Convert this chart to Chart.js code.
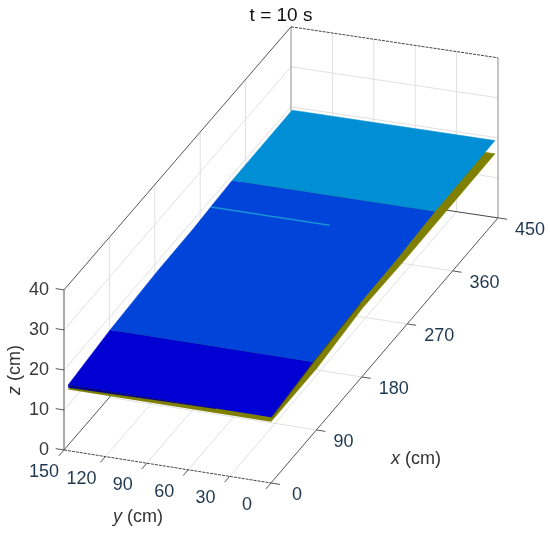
<!DOCTYPE html>
<html>
<head>
<meta charset="utf-8">
<script src="https://cdn.jsdelivr.net/npm/chart.js@4/dist/chart.umd.min.js"></script>
<style>
	body { margin: 0; background: #fff; }
	canvas { display: block; }
</style>
</head>
<body>
<canvas id="surface-chart" width="550" height="533"></canvas>
<script>
const xTicks = [0, 90, 180, 270, 360, 450];
const yTicks = [0, 30, 60, 90, 120, 150];
const zTicks = [0, 10, 20, 30, 40];

// water surface, read along the flume at each x station
const waterX = [0, 83, 176, 248, 283, 325, 444];
const waterZ = [16.4, 18.0, 19.0, 19.2, 19.6, 20.0, 20.2];
const waterWidth = 147;

// colour bands, as first and last station index
const bandStart = [0, 1, 5];
const bandEnd = [1, 5, 6];
const bandColors = ['#0000d2', '#0044da', '#008ed4'];

// bed under the water
const bedX = [0, 91, 182, 266, 444];
const bedZ = [15.3, 15.3, 17.0, 16.7, 16.9];

// thin crack line on the water
const crackX = 283;
const crackY = [147, 61];
const crackZ = [19.5, 19.5];

const ctx = document.getElementById('surface-chart').getContext('2d');
const datasets = [];

// orthographic view of the box, x/y in cm go to chart units
function project(x, y, z) {
	return {
		x: 271 + x * 227 / 450 - y * 207 / 150,
		y: 483 - x * 265 / 450 - y * 33 / 150 - z * 4 + 2 * (x / 450) * (y / 150),
	};
}

function addLine(points, color, width, dash) {
	datasets.push({
		data: points.map(p => project(p[0], p[1], p[2])),
		showLine: true,
		borderColor: color,
		borderWidth: width,
		borderDash: dash || [],
		pointRadius: 0,
		tension: 0,
		fill: false,
		clip: false,
		order: -datasets.length,
	});
}

function addShape(points, color) {
	datasets.push({
		data: points.map(p => project(p[0], p[1], p[2])),
		showLine: true,
		borderColor: color,
		backgroundColor: color,
		borderWidth: 0.5,
		pointRadius: 0,
		tension: 0,
		fill: 'shape',
		clip: false,
		order: -datasets.length,
	});
}

const gridColor = '#e0e0e0';
const innerX = xTicks.slice(1, -1);
const innerY = yTicks.slice(1, -1);
const innerZ = zTicks.slice(1, -1);

innerX.forEach(x => {
	addLine([[x, 0, 0], [x, 150, 0]], gridColor, 1);
	addLine([[x, 150, 0], [x, 150, 40]], gridColor, 1);
});
innerY.forEach(y => {
	addLine([[0, y, 0], [450, y, 0]], gridColor, 1);
	addLine([[450, y, 0], [450, y, 40]], gridColor, 1);
});
innerZ.forEach(z => {
	addLine([[0, 150, z], [450, 150, z]], gridColor, 1);
	addLine([[450, 150, z], [450, 0, z]], gridColor, 1);
});

// box edges
addLine([[450, 150, 0], [450, 150, 40]], '#8c8c8c', 1);
addLine([[450, 0, 0], [450, 0, 40]], '#8c8c8c', 1);
addLine([[0, 150, 0], [0, 150, 40]], '#555', 1);
addLine([[0, 150, 40], [450, 150, 40]], '#555', 1);
addLine([[450, 150, 40], [450, 0, 40]], '#444', 1, [3, 1]);
addLine([[0, 150, 0], [450, 150, 0]], '#555', 1);
addLine([[450, 150, 0], [450, 0, 0]], '#444', 1);
addLine([[0, 150, 0], [0, 0, 0]], '#444', 1, [3, 1]);
addLine([[0, 0, 0], [450, 0, 0]], '#555', 1);

// tick marks
xTicks.forEach(x => addLine([[x, 0, 0], [x, -6.5, 0]], '#555', 1));
yTicks.forEach(y => addLine([[0, y, 0], [-10, y, 0]], '#555', 1));
zTicks.forEach(z => addLine([[0, 150, z], [0, 156, z]], '#555', 1));

// bed
addShape(
	bedX.map((x, i) => [x, 0, bedZ[i]])
		.concat(bedX.map((x, i) => [x, waterWidth, bedZ[i]]).reverse()),
	'#808000'
);

// the bed looks darker right under the near part of the water
addLine(waterX.slice(0, 3).map((x, i) => [x, 0, waterZ[i]]), '#55550c', 2.5);

// water bands
bandColors.forEach((color, i) => {
	const xs = waterX.slice(bandStart[i], bandEnd[i] + 1);
	const zs = waterZ.slice(bandStart[i], bandEnd[i] + 1);
	addShape(
		xs.map((x, k) => [x, 0, zs[k]])
			.concat(xs.map((x, k) => [x, waterWidth, zs[k]]).reverse()),
		color
	);
});

// dark lip along the front of the water, fades out to the right
addShape([[0, waterWidth, 16.4], [0, 40, 16.4], [0, waterWidth, 15.8]], '#00008c');

addLine([[crackX, crackY[0], crackZ[0]], [crackX, crackY[1], crackZ[1]]], '#1a92d8', 1.5);

const tickFont = '18px "Liberation Sans", Arial, sans-serif';
const axisText = '#1f3850';

const axisLabels = {
	id: 'axisLabels',
	afterDatasetsDraw(chart) {
		const c = chart.ctx;
		const sx = chart.scales.x;
		const sy = chart.scales.y;
		const at = (x, y, z) => {
			const p = project(x, y, z);
			return [sx.getPixelForValue(p.x), sy.getPixelForValue(p.y)];
		};

		c.save();
		c.font = tickFont;
		c.textBaseline = 'middle';

		c.fillStyle = axisText;
		c.textAlign = 'left';
		xTicks.forEach(x => {
			const [px, py] = at(x, 0, 0);
			c.fillText(String(x), px + (x === 0 ? 21 : 17), py + 12);
		});

		c.textAlign = 'center';
		yTicks.forEach(y => {
			const [px, py] = at(0, y, 0);
			c.fillText(String(y), px + (y === 150 ? -20 : -24), py + 22);
		});

		c.fillStyle = '#3a3a3a';
		c.textAlign = 'right';
		zTicks.forEach(z => {
			const [px, py] = at(0, 150, z);
			c.fillText(String(z), px - 15, py);
		});

		// axis titles, the variable letter is italic
		c.fillStyle = '#333';
		drawAxisTitle(c, 'x', 416, 459, 0);
		drawAxisTitle(c, 'y', 138, 517, 0);
		drawAxisTitle(c, 'z', 15, 370, -Math.PI / 2);
		c.restore();
	},
};

function drawAxisTitle(c, letter, cx, cy, angle) {
	const rest = ' (cm)';
	c.save();
	c.translate(cx, cy);
	c.rotate(angle);
	c.textAlign = 'left';
	c.font = 'italic ' + tickFont;
	const w1 = c.measureText(letter).width;
	c.font = tickFont;
	const w2 = c.measureText(rest).width;
	const left = -(w1 + w2) / 2;
	c.font = 'italic ' + tickFont;
	c.fillText(letter, left, 0);
	c.font = tickFont;
	c.fillText(rest, left + w1, 0);
	c.restore();
}

new Chart(ctx, {
	type: 'scatter',
	data: { datasets: datasets },
	options: {
		responsive: false,
		animation: false,
		layout: { padding: { left: 12 } },
		plugins: {
			legend: { display: false },
			tooltip: { enabled: false },
			title: {
				display: true,
				text: 't = 10 s',
				color: '#111',
				font: { family: '"Liberation Sans", Arial, sans-serif', size: 19, weight: 'normal' },
				padding: { top: 4, bottom: 0 },
			},
		},
		scales: {
			x: { type: 'linear', display: false, min: 12, max: 550 },
			y: { type: 'linear', display: false, min: 27, max: 533, reverse: true },
		},
	},
	plugins: [axisLabels],
});
</script>
</body>
</html>
